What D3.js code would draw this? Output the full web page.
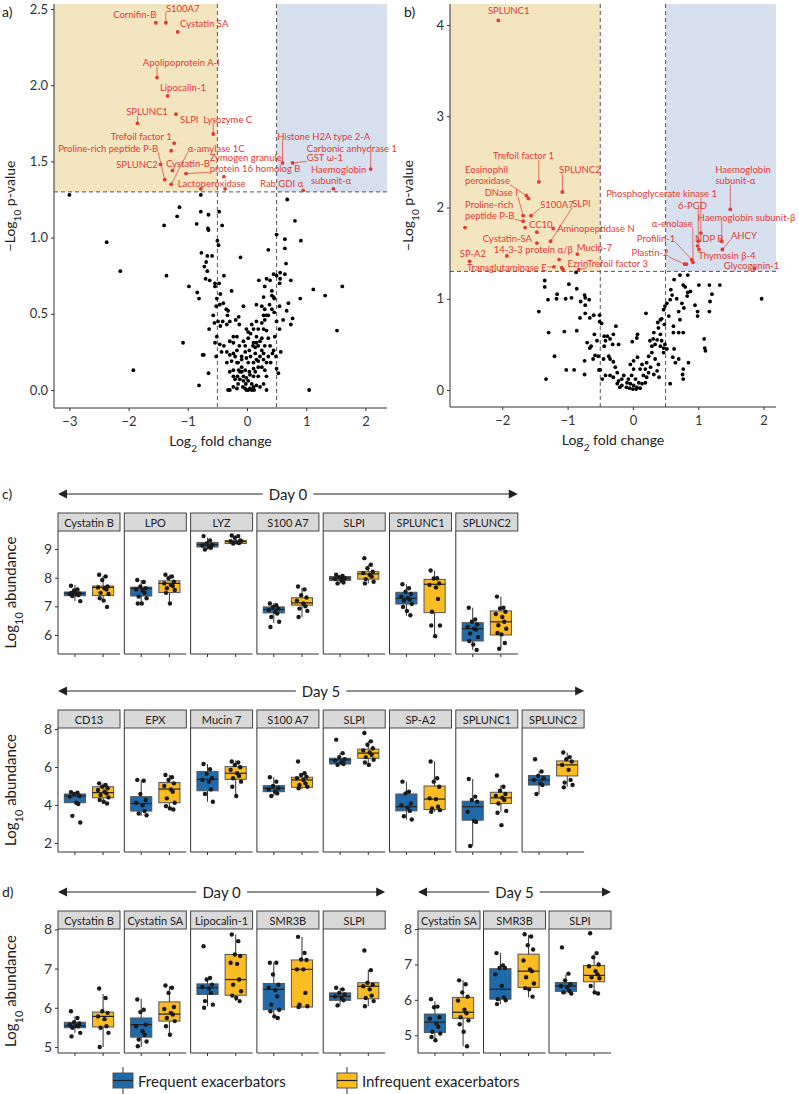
<!DOCTYPE html>
<html lang="en">
<head>
<meta charset="UTF-8">
<title>Volcano plots and boxplots</title>
<style>
  body { margin: 0; background: #fff; }
  svg text { font-family: Lato, "Noto Sans", sans-serif; }
</style>
</head>
<body>
<div class="chart"></div>
<script src="https://d3js.org/d3.v7.min.js"></script>
<script>
// ---------- panel a : volcano ----------
const aBlack = [
  [-3.00,1.28],[-2.37,0.97],[-2.14,0.78],[-1.92,0.13],[-1.40,1.08],[-1.36,0.75],[-1.18,1.14],[-1.14,1.20],
  [-1.08,0.31],[-0.98,0.68],[-0.85,1.09],[-0.84,0.64],[-0.81,0.60],[-0.81,0.03],[-0.78,1.17],[-0.78,1.28],
  [-0.77,0.90],[-0.72,0.81],[-0.69,0.84],[-0.67,0.88],[-0.66,1.06],[-0.65,1.05],[-0.65,1.15],[-0.67,0.78],
  [-0.70,0.73],[-0.63,0.72],[-0.59,0.88],[-0.64,0.40],[-0.65,0.11],[-0.73,0.23],[-0.75,0.23],[-0.54,0.70],
  [-0.54,0.68],[-0.47,0.70],[-0.47,1.17],[-0.50,0.98],[-0.48,0.95],[-0.42,1.08],[-0.39,0.75],[-0.45,0.63],
  [-0.51,0.60],[-0.52,0.55],[-0.46,0.56],[-0.40,0.57],[-0.35,0.53],[-0.32,0.52],[-0.33,0.49],[-0.26,0.65],
  [-0.57,0.49],[-0.55,0.44],[-0.51,0.35],[-0.49,0.45],[-0.45,0.42],[-0.41,0.45],[-0.34,0.43],[-0.29,0.45],
  [-0.19,0.46],[-0.14,0.48],[-0.13,0.43],[-0.11,0.87],[-0.06,0.55],[-0.01,0.40],[-0.54,0.31],[-0.46,0.30],
  [-0.39,0.29],[-0.29,0.32],[-0.23,0.31],[-0.52,0.22],[-0.43,0.25],[-0.34,0.25],[-0.29,0.23],[-0.23,0.24],
  [-0.17,0.26],[-0.32,0.00],[-0.29,0.00],[-0.23,0.02],[-0.20,0.07],[-0.12,0.12],[-0.34,0.18],[-0.26,0.19],
  [-0.17,0.18],[-0.14,0.13],[-0.09,0.22],[-0.03,0.29],[0.06,0.37],[0.11,0.31],[0.16,0.35],[0.19,0.29],
  [0.22,0.32],[0.28,0.40],[0.33,0.39],[0.36,0.34],[0.39,0.29],[0.43,0.24],[0.47,0.35],[0.20,0.72],
  [0.30,0.68],[0.33,0.73],[0.39,0.72],[0.45,0.76],[0.50,0.75],[0.56,0.73],[0.56,0.77],[0.55,0.70],
  [0.36,0.92],[0.50,1.02],[0.64,0.76],[0.68,1.25],[0.64,0.99],[0.64,0.93],[0.66,0.83],[0.74,0.72],
  [0.81,1.11],[0.91,0.98],[0.90,0.60],[0.70,0.57],[0.67,0.52],[0.55,0.55],[0.61,0.46],[0.77,0.47],
  [0.74,0.43],[0.28,0.61],[0.42,0.65],[0.42,0.62],[0.45,0.61],[0.46,0.60],[0.38,0.56],[0.30,0.53],
  [0.28,0.49],[0.30,0.46],[0.33,0.49],[0.46,0.51],[0.50,0.45],[0.55,0.40],[0.57,0.25],[0.49,0.22],
  [0.50,0.14],[0.53,0.11],[1.12,0.66],[1.32,0.62],[1.61,0.68],[1.52,0.39],[1.05,0.00],[0.33,0.00],
  [-0.01,0.00],[0.02,0.00],[0.05,0.01],[-0.03,0.01],[-0.07,0.02],[0.11,0.02],[0.16,0.03],[0.08,0.04],
  [0.02,0.06],[-0.06,0.06],[-0.12,0.07],[-0.01,0.08],[0.11,0.09],[0.19,0.09],[0.14,0.12],[0.04,0.12],
  [-0.03,0.13],[-0.09,0.15],[0.02,0.18],[0.11,0.18],[0.16,0.20],[0.22,0.22],[0.28,0.24],[0.25,0.26],
  [0.14,0.24],[0.06,0.22],[-0.01,0.21],[-0.06,0.09],[-0.15,0.04],[-0.17,0.01],[0.08,0.00],[0.12,0.00],
  [0.22,0.02],[0.28,0.04],[0.33,0.09],[0.30,0.13],[0.25,0.15],[0.19,0.15],[0.11,0.14],[0.05,0.10],
  [-0.02,0.04],[-0.09,0.12],[-0.16,0.09],[-0.23,0.13],[-0.20,0.22],[-0.13,0.29],[-0.06,0.32],[0.02,0.34],
  [0.10,0.29],[0.16,0.31],[0.25,0.34],[0.30,0.29],[0.36,0.22],[0.40,0.18],[0.33,0.18],[0.28,0.20],
  [0.19,0.19],[0.14,0.28],[0.04,0.26],[-0.03,0.25],[-0.09,0.20],[-0.15,0.18],[-0.23,0.09],[-0.29,0.12],
  [-0.17,0.35],[-0.23,0.35],[0.11,0.40],[0.19,0.40],[0.25,0.44],[0.16,0.45],[0.08,0.43],[0.02,0.38],
  [0.36,0.49],[0.42,0.53],[0.25,0.55],[0.16,0.56],[0.45,0.26]
];
const aRed = [
  [-1.28,1.57],[-0.39,1.40],[-0.37,1.32]
];
const aLabels = ["Cornifin-B","S100A7","Cystatin SA","Apolipoprotein A-I","Lipocalin-1","SLPI","SPLUNC1",
  "Lysozyme C","Trefoil factor 1","SPLUNC2","Cystatin-B","Proline-rich peptide P-B","α-amylase 1C",
  "Zymogen granule\nprotein 16 homolog B","Lactoperoxidase","Histone H2A type 2-A","GST ω-1",
  "Carbonic anhydrase 1","Rab GDI α","Haemoglobin\nsubunit-α"];
const aLabelPtX = [-1.54,-1.37,-1.17,-1.52,-1.34,-1.20,-1.85,-0.57,-1.23,-1.46,-1.26,-1.39,-1.28,-1.03,-0.78,0.60,0.77,2.09,0.95,1.46];
const aLabelPtY = [2.41,2.41,2.35,2.05,1.93,1.81,1.75,1.68,1.62,1.48,1.44,1.38,1.35,1.42,1.32,1.49,1.49,1.45,1.31,1.32];
const aLabelX = [-2.26,-1.37,-1.13,-1.76,-1.47,-1.13,-2.04,-0.74,-2.30,-2.21,-1.37,-3.19,-1.00,-0.63,-1.17,0.51,1.01,1.01,0.22,1.08];
const aLabelY = [2.47,2.51,2.41,2.15,1.99,1.78,1.83,1.78,1.67,1.48,1.49,1.59,1.59,1.53,1.36,1.67,1.53,1.59,1.36,1.45];

// ---------- panel b : volcano ----------
const bBlack = [
  [-1.44,0.86],[-1.35,1.20],[-1.35,1.13],[-1.30,0.99],[-1.29,0.63],[-1.33,0.12],[-1.20,0.37],[-1.16,1.05],
  [-1.17,1.00],[-1.05,0.64],[-1.03,1.00],[-0.98,1.16],[-1.02,0.22],[-0.94,1.01],[-0.90,0.22],[-0.86,1.11],
  [-0.86,0.65],[-0.80,0.97],[-0.74,1.04],[-0.73,1.01],[-0.73,0.93],[-0.73,0.84],[-0.67,0.99],[-0.81,0.79],
  [-0.66,0.79],[-0.60,0.82],[-0.51,0.82],[-0.51,0.75],[-0.48,0.73],[-0.74,0.32],[-0.74,0.17],[-0.70,0.52],
  [-0.66,0.46],[-0.64,0.48],[-0.61,0.34],[-0.59,0.61],[-0.58,0.38],[-0.55,0.54],[-0.53,0.37],[-0.52,0.22],
  [-0.50,0.22],[-0.47,0.12],[-0.45,0.34],[-0.44,0.48],[-0.42,0.54],[-0.44,0.59],[-0.39,0.59],[-0.35,0.56],
  [-0.30,0.61],[-0.31,0.50],[-0.37,0.37],[-0.35,0.34],[-0.30,0.31],[-0.26,0.70],[-0.22,0.50],[-0.27,0.25],
  [-0.24,0.19],[-0.42,0.16],[-0.35,0.16],[-0.30,0.14],[-0.22,0.10],[-0.24,0.07],[-0.20,0.03],[-0.17,0.12],
  [-0.14,0.16],[-0.09,0.08],[-0.04,0.07],[0.01,0.05],[0.06,0.03],[0.11,0.02],[-0.10,0.03],[-0.05,0.02],
  [0.00,0.01],[0.05,0.01],[-0.17,0.05],[-0.07,0.12],[-0.02,0.16],[0.04,0.12],[0.09,0.08],[0.14,0.07],
  [0.19,0.08],[0.21,0.14],[0.16,0.16],[0.11,0.23],[0.01,0.23],[-0.04,0.28],[0.01,0.32],[0.07,0.36],
  [0.14,0.28],[0.19,0.23],[0.24,0.19],[0.27,0.25],[0.21,0.30],[0.24,0.37],[0.29,0.41],[0.34,0.34],
  [0.39,0.28],[0.37,0.21],[0.32,0.17],[0.40,0.14],[-0.01,0.53],[0.06,0.57],[0.07,0.61],[0.20,0.84],
  [0.26,0.54],[0.31,0.56],[0.37,0.55],[0.32,0.63],[0.39,0.68],[0.42,0.61],[0.44,0.54],[0.47,0.46],
  [0.49,0.50],[0.52,0.45],[0.29,0.48],[0.34,0.50],[0.42,0.48],[0.47,0.41],[0.38,0.74],[0.42,0.77],
  [0.47,0.88],[0.49,0.92],[0.52,0.95],[0.44,0.78],[0.48,0.72],[0.55,0.81],[0.57,0.99],[0.60,1.04],
  [0.58,1.10],[0.63,1.21],[0.67,1.00],[0.70,0.86],[0.75,0.95],[0.72,1.26],[0.84,1.26],[0.77,1.15],
  [0.80,1.13],[0.83,1.03],[0.84,1.07],[0.88,1.08],[0.78,0.90],[0.72,0.77],[0.70,0.63],[0.77,0.63],
  [0.62,0.63],[0.63,0.45],[0.61,0.36],[0.65,0.30],[0.70,0.34],[0.85,0.30],[0.77,0.12],[0.76,0.17],
  [0.77,0.23],[0.57,0.07],[0.62,0.70],[1.01,1.15],[0.95,0.93],[0.99,0.86],[0.99,0.81],[1.09,0.56],
  [1.10,0.46],[1.11,0.43],[1.17,1.15],[1.18,0.97],[1.17,0.86],[1.21,1.05],[1.33,1.15],[1.97,1.00],
  [-0.87,1.29]
];
const bRed = [
  [-2.57,1.78],[-1.93,1.47],[-1.13,1.43],[-1.07,1.32],[0.82,1.38],[-1.60,2.10]
];
const bLabels = ["SPLUNC1","Trefoil factor 1","Eosinophil\nperoxidase","SPLUNC2","DNase I","Proline-rich\npeptide P-B",
  "S100A7","SLPI","CC10","Aminopeptidase N","Cystatin-SA","14-3-3 protein α/β","Mucin-7","SP-A2",
  "Transglutaminase E","Ezrin","Trefoil factor 3","Haemoglobin\nsubunit-α","Phosphoglycerate kinase 1","6-PGD",
  "Haemoglobin subunit-β","α-enolase","NDP B","Profilin-1","AHCY","Plastin-2","Thymosin β-4","Glycogenin-1"];
const bLabelPtX = [-2.06,-1.44,-1.63,-1.08,-1.68,-1.68,-1.56,-1.26,-1.65,-1.22,-1.47,-1.47,-0.85,-2.50,-1.21,-1.09,-0.83,
  1.49,1.04,1.00,1.36,0.92,0.99,0.90,1.37,0.79,1.01,1.86];
const bLabelPtY = [4.05,2.28,2.13,2.17,1.91,1.85,1.91,1.63,1.78,1.77,1.73,1.61,1.49,1.41,1.35,1.34,1.32,
  1.98,1.72,1.63,1.63,1.40,1.58,1.43,1.54,1.38,1.54,1.33];
const bLabelX = [-2.22,-2.14,-2.57,-1.13,-2.27,-2.57,-1.42,-0.93,-1.59,-1.16,-2.30,-2.13,-0.86,-2.65,-2.54,-1.00,-0.70,
  1.26,-0.41,0.69,0.99,0.29,0.95,0.06,1.50,-0.02,1.00,1.39];
const bLabelY = [4.16,2.57,2.42,2.42,2.17,2.04,2.04,2.05,1.82,1.78,1.67,1.54,1.57,1.50,1.35,1.39,1.39,
  2.42,2.16,2.03,1.90,1.83,1.67,1.67,1.70,1.51,1.48,1.37];

// ---------- panel c : Day 0 boxplots ----------
const c0Proteins = ["Cystatin B","LPO","LYZ","S100 A7","SLPI","SPLUNC1","SPLUNC2"];
const c0Freq = [[7.18,7.37,7.45,7.50,7.75],[7.10,7.36,7.63,7.67,7.92],[8.98,9.07,9.15,9.23,9.39],[6.42,6.77,6.89,6.98,7.12],
  [7.80,7.90,7.98,8.04,8.10],[6.67,7.08,7.28,7.49,7.77],[5.48,5.79,6.22,6.43,6.95]];
const c0Infreq = [[7.20,7.38,7.66,7.71,8.06],[7.10,7.48,7.80,7.89,8.10],[9.19,9.19,9.26,9.30,9.47],[6.63,7.04,7.12,7.30,7.65],
  [7.80,7.95,8.13,8.21,8.45],[5.96,6.78,7.77,7.94,8.25],[5.55,6.00,6.46,6.84,7.34]];
const c0FreqPts = [
  [7.72,7.59,7.55,7.45,7.43,7.43,7.39,7.36,7.18,7.47,7.50],
  [7.92,7.85,7.69,7.63,7.59,7.55,7.47,7.34,7.28,7.10,7.10],
  [9.45,9.30,9.19,9.14,9.12,9.07,9.04,8.98],
  [7.10,7.04,6.98,6.92,6.87,6.81,6.75,6.63,6.46,6.28],
  [8.10,8.06,8.02,7.98,7.95,7.90,7.83,7.80],
  [7.77,7.63,7.51,7.43,7.34,7.28,7.24,7.20,7.08,6.98,6.84,6.69],
  [6.95,6.54,6.46,6.37,6.28,6.22,6.19,6.05,5.93,5.79,5.67,5.48]];
const c0InfreqPts = [
  [8.10,8.04,7.92,7.69,7.66,7.63,7.59,7.47,7.43,7.28,7.20,6.98],
  [8.10,8.04,7.98,7.86,7.80,7.75,7.71,7.63,7.57,7.47,7.10],
  [9.47,9.45,9.39,9.30,9.27,9.23,9.21,9.19,9.28],
  [7.69,7.59,7.39,7.31,7.20,7.10,7.00,6.92,6.84,6.63],
  [8.68,8.45,8.33,8.21,8.16,8.10,8.04,7.95,7.86,7.80],
  [8.25,7.98,7.97,7.80,7.75,7.66,7.26,6.81,6.33,6.33,5.96],
  [7.34,6.95,6.93,6.81,6.73,6.63,6.46,6.34,6.22,6.07,6.02,5.72,5.52]];

// ---------- panel c : Day 5 boxplots ----------
const c5Proteins = ["CD13","EPX","Mucin 7","S100 A7","SLPI","SP-A2","SPLUNC1","SPLUNC2"];
const c5Freq = [[4.05,4.12,4.47,4.58,4.68],[3.43,3.68,4.08,4.44,5.32],[4.17,4.75,5.35,5.76,6.16],[4.47,4.70,4.88,5.02,5.46],
  [6.11,6.16,6.38,6.46,6.73],[3.24,3.69,3.91,4.58,5.23],[1.84,3.20,3.91,4.20,5.37],[4.58,5.05,5.32,5.55,5.76]];
const c5Infreq = [[4.08,4.38,4.65,4.96,5.14],[3.76,4.12,4.84,5.18,5.58],[4.47,5.35,5.67,6.02,6.34],[4.82,4.93,5.32,5.46,5.67],
  [6.11,6.46,6.73,6.94,7.35],[3.64,3.76,4.31,5.00,6.29],[3.64,4.08,4.38,4.67,5.05],[4.96,5.53,6.11,6.32,6.76]];
const c5FreqPts = [
  [4.68,4.65,4.58,4.47,4.44,4.12,4.05,3.43,3.08],
  [5.32,5.28,4.58,4.26,4.12,3.99,3.68,3.55,3.46],
  [6.16,5.88,5.64,5.41,5.32,5.23,4.82,4.58,4.17],
  [5.46,5.23,5.00,4.88,4.82,4.70,4.61,4.47],
  [7.44,6.73,6.52,6.41,6.34,6.24,6.16,6.11],
  [5.23,4.70,4.61,4.08,3.99,3.87,3.69,3.41,3.24],
  [5.37,4.44,4.26,4.17,3.64,3.16,3.11,1.84],
  [6.41,5.76,5.53,5.41,5.32,5.14,5.05,4.58]];
const c5InfreqPts = [
  [5.14,5.05,4.96,4.88,4.79,4.70,4.61,4.52,4.40,4.26,4.17,4.08],
  [5.58,5.46,5.32,5.14,5.00,4.82,4.70,4.35,4.12,3.94,3.82,3.76],
  [6.29,6.24,6.11,5.99,5.85,5.67,5.53,5.41,5.23,4.96,4.47],
  [6.29,5.67,5.58,5.49,5.41,5.32,5.14,5.05,4.96,4.88],
  [7.79,7.35,7.17,6.99,6.87,6.76,6.64,6.52,6.38,6.24,6.11],
  [6.29,5.41,5.23,4.96,4.35,4.31,3.91,3.82,3.73,3.64],
  [5.55,4.96,4.75,4.58,4.47,4.38,4.26,4.08,3.69,3.59,2.94],
  [6.76,6.52,6.41,6.29,6.11,5.85,5.32,5.18,5.05,4.93]];

// ---------- panel d : Day 0 boxplots ----------
const d0Proteins = ["Cystatin B","Cystatin SA","Lipocalin-1","SMR3B","SLPI"];
const d0Freq = [[5.36,5.49,5.54,5.63,5.78],[5.00,5.25,5.57,5.74,6.23],[6.04,6.34,6.51,6.61,6.76],[5.74,5.95,6.47,6.62,7.15],[6.06,6.19,6.29,6.38,6.51]];
const d0Infreq = [[5.00,5.51,5.78,5.89,6.35],[5.31,5.66,5.84,6.15,6.55],[6.17,6.32,6.72,7.36,7.87],[6.00,6.02,6.98,7.22,7.81],[6.04,6.23,6.55,6.64,6.96]];
const d0FreqPts = [
  [5.91,5.74,5.63,5.60,5.57,5.54,5.53,5.49,5.36,5.27],
  [6.21,5.95,5.89,5.57,5.53,5.40,5.31,5.19,5.14,5.02],
  [7.57,6.76,6.72,6.59,6.53,6.49,6.38,6.17,6.08,6.00],
  [7.15,7.15,6.85,6.59,6.51,6.45,6.29,6.08,5.95,5.91,5.78,5.74],
  [6.51,6.47,6.38,6.34,6.29,6.25,6.19,6.06]];
const d0InfreqPts = [
  [6.49,6.25,5.91,5.87,5.78,5.71,5.53,5.49,5.36,5.00],
  [6.57,6.51,6.38,6.02,5.97,5.87,5.83,5.74,5.66,5.53,5.31],
  [7.87,7.70,7.36,7.32,7.15,7.12,6.72,6.59,6.42,6.31,6.25,6.17],
  [7.81,7.40,7.23,7.22,6.98,6.98,6.38,6.08,6.04,6.02],
  [7.46,6.96,6.64,6.59,6.55,6.47,6.31,6.25,6.17,6.04]];

// ---------- panel d : Day 5 boxplots ----------
const d5Proteins = ["Cystatin SA","SMR3B","SLPI"];
const d5Freq = [[4.91,5.08,5.37,5.60,5.96],[5.88,6.02,6.30,6.88,7.32],[6.16,6.24,6.39,6.49,6.72]];
const d5Infreq = [[4.69,5.48,5.65,6.07,6.55],[6.07,6.35,6.81,7.29,7.83],[6.21,6.51,6.69,6.97,7.29]];
const d5FreqPts = [
  [6.02,5.81,5.79,5.51,5.47,5.33,5.24,5.10,5.05,4.95,4.86],
  [7.32,6.97,6.90,6.90,6.72,6.39,6.07,6.02,5.99,5.88],
  [7.48,6.74,6.55,6.44,6.39,6.35,6.25,6.21,6.18]];
const d5InfreqPts = [
  [6.55,6.44,6.21,6.09,5.98,5.72,5.62,5.51,5.42,5.31,5.10,4.69],
  [7.85,7.79,7.54,7.42,7.11,6.86,6.81,6.64,6.46,6.33,6.30,6.09],
  [7.88,7.32,7.20,7.00,6.95,6.81,6.72,6.64,6.61,6.39,6.21,6.18]];

const groups = ["Frequent exacerbators","Infrequent exacerbators"];
// hand-set horizontal jitter (in group units) for the dots
const jitter = [-0.14,0.09,-0.03,0.16,-0.18,0.05,0.12,-0.09,0.19,-0.12,0.02,0.14,-0.06];

// ---------- drawing ----------
const W = 799, H = 1094;
const BLUE = "#1f6aab", ORANGE = "#fbbb22", RED = "#e23a33";
const svg = d3.select(".chart").append("svg").attr("width", W).attr("height", H);

function drawVolcano(o) {
  const g = svg.append("g");
  const x = d3.scaleLinear().domain(o.xDomain).range([o.left, o.right]);
  const y = d3.scaleLinear().domain(o.yDomain).range([o.bottom, o.top]);
  const th = 1.3;

  // shaded significance zones
  g.append("rect").attr("x", x(o.xDomain[0])).attr("y", y(o.yDomain[1]))
    .attr("width", x(-0.5) - x(o.xDomain[0])).attr("height", y(th) - y(o.yDomain[1]))
    .attr("fill", "#f4e5c1");
  g.append("rect").attr("x", x(0.5)).attr("y", y(o.yDomain[1]))
    .attr("width", x(o.xDomain[1]) - x(0.5)).attr("height", y(th) - y(o.yDomain[1]))
    .attr("fill", "#d7e0ee");

  // threshold lines
  const dash = "4,3";
  [-0.5, 0.5].forEach(v => g.append("line").attr("x1", x(v)).attr("x2", x(v))
    .attr("y1", o.top).attr("y2", o.bottom).attr("stroke", "#555").attr("stroke-dasharray", dash));
  g.append("line").attr("x1", o.left).attr("x2", o.right).attr("y1", y(th)).attr("y2", y(th))
    .attr("stroke", "#555").attr("stroke-dasharray", dash);

  // axes
  const xAxis = d3.axisBottom(x).tickValues(o.xTicks).tickSize(3).tickFormat(d3.format("d"));
  const yAxis = d3.axisLeft(y).tickValues(o.yTicks).tickSize(3).tickFormat(d3.format(o.yFmt));
  const gx = g.append("g").attr("transform", `translate(0,${o.bottom})`).call(xAxis);
  const gy = g.append("g").attr("transform", `translate(${o.left},0)`).call(yAxis);
  [gx, gy].forEach(a => {
    a.select(".domain").remove();
    a.selectAll("line").attr("stroke", "#333");
    a.selectAll("text").attr("fill", "#333").style("font-size", "13px");
  });
  gx.selectAll("text").attr("dy", "0.9em");
  g.append("line").attr("x1", o.left).attr("x2", o.left).attr("y1", o.top).attr("y2", o.bottom).attr("stroke", "#333");
  g.append("line").attr("x1", o.left).attr("x2", o.right).attr("y1", o.bottom).attr("y2", o.bottom).attr("stroke", "#333");

  // black points
  g.append("g").selectAll("circle").data(o.black).join("circle")
    .attr("cx", d => x(d[0])).attr("cy", d => y(d[1])).attr("r", 1.9).attr("fill", "#000");

  // red points (labelled and unlabelled)
  const reds = o.red.concat(o.ptX.map((v, i) => [v, o.ptY[i]]));
  const leaders = g.append("g");
  g.append("g").selectAll("circle").data(reds).join("circle")
    .attr("cx", d => x(d[0])).attr("cy", d => y(d[1])).attr("r", 1.9).attr("fill", RED);

  // labels with leader lines
  const lg = g.append("g");
  o.labels.forEach((lab, i) => {
    const t = lg.append("text").attr("x", x(o.lx[i])).attr("y", y(o.ly[i]))
      .attr("fill", RED).style("font-size", "9.5px").attr("dominant-baseline", "central");
    lab.split("\n").forEach((s, k) => t.append("tspan").attr("x", x(o.lx[i])).attr("dy", k ? "1.15em" : 0).text(s));
    const b = t.node().getBBox();
    const px = x(o.ptX[i]), py = y(o.ptY[i]);
    const cx = Math.max(b.x, Math.min(px, b.x + b.width));
    const cy = Math.max(b.y + 1, Math.min(py, b.y + b.height - 1));
    if (Math.hypot(cx - px, cy - py) > 6) {
      leaders.append("line").attr("x1", px).attr("y1", py).attr("x2", cx).attr("y2", cy)
        .attr("stroke", RED).attr("stroke-width", 0.7);
    }
  });

  // axis titles
  const xt = g.append("text").attr("x", (o.left + o.right) / 2).attr("y", o.bottom + 38)
    .attr("text-anchor", "middle").attr("fill", "#222").style("font-size", "14px");
  xt.append("tspan").text("Log");
  xt.append("tspan").attr("baseline-shift", "sub").style("font-size", "10px").text("2");
  xt.append("tspan").text(" fold change");
  const yt = g.append("text").attr("transform", `translate(${o.titleX},${(o.top + o.bottom) / 2}) rotate(-90)`)
    .attr("text-anchor", "middle").attr("fill", "#222").style("font-size", "14px");
  yt.append("tspan").text("−Log");
  yt.append("tspan").attr("baseline-shift", "sub").style("font-size", "10px").text("10");
  yt.append("tspan").text(" p-value");

  svg.append("text").attr("x", o.tagX).attr("y", 17).style("font-size", "14px").attr("fill", "#222").text(o.tag);
}

drawVolcano({
  left: 54, right: 387, top: 4, bottom: 408, xDomain: [-3.26, 2.365], yDomain: [-0.118, 2.533],
  xTicks: [-3, -2, -1, 0, 1, 2], yTicks: [0, 0.5, 1, 1.5, 2, 2.5], yFmt: ".1f",
  black: aBlack, red: aRed, labels: aLabels, ptX: aLabelPtX, ptY: aLabelPtY, lx: aLabelX, ly: aLabelY,
  titleX: 15, tag: "a)", tagX: 2
});
drawVolcano({
  left: 450, right: 776, top: 4, bottom: 407, xDomain: [-2.80, 2.19], yDomain: [-0.186, 4.23],
  xTicks: [-2, -1, 0, 1, 2], yTicks: [0, 1, 2, 3, 4], yFmt: "d",
  black: bBlack, red: bRed, labels: bLabels, ptX: bLabelPtX, ptY: bLabelPtY, lx: bLabelX, ly: bLabelY,
  titleX: 413, tag: "b)", tagX: 404
});

function drawArrow(x0, x1, yy, label) {
  const g = svg.append("g");
  const t = g.append("text").attr("x", (x0 + x1) / 2).attr("y", yy).attr("text-anchor", "middle")
    .attr("dominant-baseline", "central").style("font-size", "15px").attr("fill", "#222").text(label);
  const w = t.node().getBBox().width;
  const mid = (x0 + x1) / 2;
  g.append("line").attr("x1", x0 + 6).attr("x2", mid - w / 2 - 6).attr("y1", yy).attr("y2", yy).attr("stroke", "#222").attr("stroke-width", 1.2);
  g.append("line").attr("x1", mid + w / 2 + 6).attr("x2", x1 - 6).attr("y1", yy).attr("y2", yy).attr("stroke", "#222").attr("stroke-width", 1.2);
  g.append("path").attr("d", `M${x0},${yy}l9,-4.5v9z`).attr("fill", "#222");
  g.append("path").attr("d", `M${x1},${yy}l-9,-4.5v9z`).attr("fill", "#222");
}

function drawBoxRow(o) {
  const g = svg.append("g");
  const n = o.proteins.length;
  const facet = d3.scaleBand().domain(o.proteins)
    .range([o.left, o.left + n * o.step - (o.step - o.width)]).paddingInner((o.step - o.width) / o.step);
  const bw = facet.bandwidth();
  const gx = d3.scaleLinear().domain([0.4, 2.6]).range([0, bw]);
  const y = d3.scaleLinear().domain(o.yDomain).range([o.bottom, o.stripTop + o.stripH]);
  const plotTop = o.stripTop + o.stripH;

  // y axis on first facet
  const yAxis = d3.axisLeft(y).tickValues(o.yTicks).tickSize(3).tickFormat(d3.format("d"));
  const ga = g.append("g").attr("transform", `translate(${o.left},0)`).call(yAxis);
  ga.select(".domain").remove();
  ga.selectAll("line").attr("stroke", "#333");
  ga.selectAll("text").attr("fill", "#333").style("font-size", "14px");

  o.proteins.forEach((p, i) => {
    const fx = facet(p);
    const f = g.append("g").attr("transform", `translate(${fx},0)`);
    // strip
    f.append("rect").attr("x", 0).attr("y", o.stripTop).attr("width", bw).attr("height", o.stripH)
      .attr("fill", "#d9d9d9").attr("stroke", "#444").attr("stroke-width", 1);
    f.append("text").attr("x", bw / 2).attr("y", o.stripTop + o.stripH / 2).attr("text-anchor", "middle")
      .attr("dominant-baseline", "central").style("font-size", "11px").attr("fill", "#222").text(p);
    // panel borders
    f.append("line").attr("x1", 0).attr("x2", 0).attr("y1", plotTop).attr("y2", o.bottom).attr("stroke", "#333");
    f.append("line").attr("x1", 0).attr("x2", bw).attr("y1", o.bottom).attr("y2", o.bottom).attr("stroke", "#333");

    [[o.freq[i], o.freqPts[i], BLUE, 1], [o.infreq[i], o.infreqPts[i], ORANGE, 2]].forEach(([s, pts, col, pos]) => {
      const cx = gx(pos), half = (gx(pos + 0.375) - gx(pos - 0.375)) / 2;
      f.append("line").attr("x1", cx).attr("x2", cx).attr("y1", o.bottom).attr("y2", o.bottom + 3).attr("stroke", "#333");
      f.append("line").attr("x1", cx).attr("x2", cx).attr("y1", y(s[0])).attr("y2", y(s[4])).attr("stroke", "#333");
      f.append("rect").attr("x", cx - half).attr("y", y(s[3])).attr("width", 2 * half)
        .attr("height", y(s[1]) - y(s[3])).attr("fill", col).attr("stroke", "#555").attr("stroke-width", 1);
      f.append("line").attr("x1", cx - half).attr("x2", cx + half).attr("y1", y(s[2])).attr("y2", y(s[2]))
        .attr("stroke", "#222").attr("stroke-width", 1.2);
      f.append("g").selectAll("circle").data(pts).join("circle")
        .attr("cx", (d, k) => gx(pos + jitter[k % jitter.length]))
        .attr("cy", d => y(d)).attr("r", 2.2).attr("fill", "#1a1a1a");
    });
  });

  const first = facet(o.proteins[0]), last = facet(o.proteins[n - 1]) + bw;
  drawArrow(first, last, o.arrowY, o.day);

  if (o.title) {
    const yt = g.append("text").attr("transform", `translate(16,${(plotTop + o.bottom) / 2}) rotate(-90)`)
      .attr("text-anchor", "middle").attr("fill", "#222").style("font-size", "15px");
    yt.append("tspan").text("Log");
    yt.append("tspan").attr("baseline-shift", "sub").style("font-size", "11px").text("10");
    yt.append("tspan").text(" abundance");
  }
  if (o.tag) svg.append("text").attr("x", 2).attr("y", o.arrowY + 5).style("font-size", "14px").attr("fill", "#222").text(o.tag);
}

drawBoxRow({ proteins: c0Proteins, freq: c0Freq, infreq: c0Infreq, freqPts: c0FreqPts, infreqPts: c0InfreqPts,
  left: 58, step: 66.3, width: 62, stripTop: 513, stripH: 18, bottom: 654, yDomain: [5.337, 9.628], yTicks: [6, 7, 8, 9],
  arrowY: 494, day: "Day 0", title: true, tag: "c)" });
drawBoxRow({ proteins: c5Proteins, freq: c5Freq, infreq: c5Infreq, freqPts: c5FreqPts, infreqPts: c5InfreqPts,
  left: 58, step: 66.3, width: 62, stripTop: 710, stripH: 18, bottom: 852, yDomain: [1.526, 8.053], yTicks: [2, 4, 6, 8],
  arrowY: 691, day: "Day 5", title: true });
drawBoxRow({ proteins: d0Proteins, freq: d0Freq, infreq: d0Infreq, freqPts: d0FreqPts, infreqPts: d0InfreqPts,
  left: 58, step: 66.3, width: 62, stripTop: 911, stripH: 18, bottom: 1053, yDomain: [4.846, 8.01], yTicks: [5, 6, 7, 8],
  arrowY: 892, day: "Day 0", title: true, tag: "d)" });
drawBoxRow({ proteins: d5Proteins, freq: d5Freq, infreq: d5Infreq, freqPts: d5FreqPts, infreqPts: d5InfreqPts,
  left: 418, step: 65.5, width: 62, stripTop: 911, stripH: 18, bottom: 1053, yDomain: [4.5, 8.0], yTicks: [5, 6, 7, 8],
  arrowY: 892, day: "Day 5", title: false });

// legend
const legend = svg.append("g");
const legX = [113, 337];
groups.forEach((name, i) => {
  const lx = legX[i], col = i ? ORANGE : BLUE;
  legend.append("line").attr("x1", lx + 10).attr("x2", lx + 10).attr("y1", 1067).attr("y2", 1094).attr("stroke", "#333");
  legend.append("rect").attr("x", lx).attr("y", 1073).attr("width", 20).attr("height", 15)
    .attr("fill", col).attr("stroke", "#555");
  legend.append("line").attr("x1", lx).attr("x2", lx + 20).attr("y1", 1080.5).attr("y2", 1080.5).attr("stroke", "#222").attr("stroke-width", 1.2);
  legend.append("text").attr("x", lx + 25).attr("y", 1081).attr("dominant-baseline", "central")
    .style("font-size", "15px").attr("fill", "#222").text(name);
});
</script>
</body>
</html>
